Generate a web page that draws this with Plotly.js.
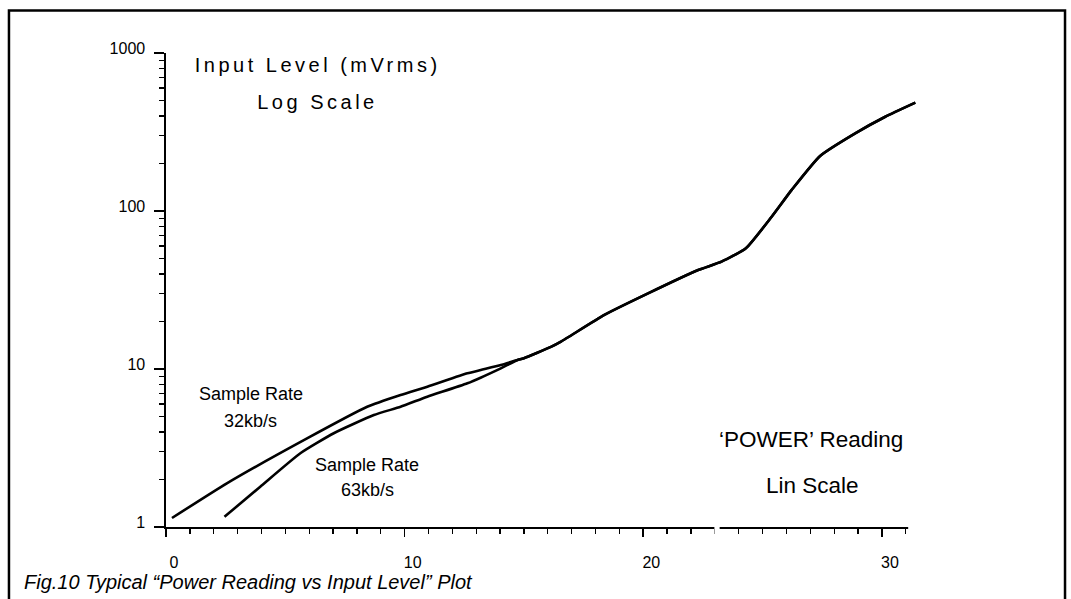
<!DOCTYPE html>
<html>
<head>
<meta charset="utf-8">
<script src="https://cdn.plot.ly/plotly-3.0.1.min.js"></script>
<style>
  html, body { margin: 0; padding: 0; background: #fff; }
  #chart { width: 1071px; height: 599px; }
  .annotation[data-index="0"] text, .annotation[data-index="1"] text { letter-spacing: 3.5px; }
</style>
</head>
<body>
<div id="chart"></div>
<script>
// Power reading (linear) vs input level (mVrms, log)
const rate32X = [0.25, 2.55, 5.91, 8.43, 9.83, 10.95, 12.63, 13.19, 14.03, 14.73];
const rate32Y = [1.14, 1.89, 3.64, 5.77, 6.85, 7.73, 9.39, 9.86, 10.6, 11.4];

const rate63X = [2.45, 3.95, 5.63, 7.03, 8.71, 9.83, 10.95, 12.63, 14.03, 14.73];
const rate63Y = [1.16, 1.80, 2.93, 3.92, 5.11, 5.77, 6.68, 8.12, 10.1, 11.4];

const commonX = [15.0, 16.13, 16.55, 18.37, 20.2, 22.3, 23.28, 24.3, 25.38, 26.22, 27.41, 28.88, 30.14, 31.4];
const commonY = [11.7, 13.8, 14.9, 22.0, 30.1, 42.3, 47.8, 58.1, 92, 136, 223, 310, 395, 485];

const xMajorTicks = [0, 10, 20, 30];
const xMinorTicks = Array.from({length: 32}, (_, i) => i);
const yMajorTicks = [1, 10, 100, 1000];
const yMinorTicks = [2,3,4,5,6,7,8,9,20,30,40,50,60,70,80,90,200,300,400,500,600,700,800,900];

const FONT = 'Liberation Sans, Arial, Helvetica, sans-serif';

const lineStyle = {color: '#000', width: 2.6, shape: 'spline', smoothing: 0.5};

const traces = [
  {x: rate32X.concat(commonX), y: rate32Y.concat(commonY), mode: 'lines', line: lineStyle, name: '32kb/s', hoverinfo: 'none'},
  {x: rate63X.concat(commonX), y: rate63Y.concat(commonY), mode: 'lines', line: lineStyle, name: '63kb/s', hoverinfo: 'none'}
];

function ann(text, x, y, size, opts) {
  return Object.assign({
    text: text, x: x, y: y, xref: 'paper', yref: 'paper',
    xanchor: 'center', yanchor: 'middle', showarrow: false,
    font: {family: FONT, size: size, color: '#000'}
  }, opts || {});
}

const layout = {
  width: 1071, height: 599,
  margin: {l: 166, r: 154, t: 53, b: 72},
  paper_bgcolor: '#fff', plot_bgcolor: '#fff',
  showlegend: false,
  font: {family: FONT, color: '#000'},
  xaxis: {
    range: [0, 31.47], showgrid: false, zeroline: false,
    showline: true, linecolor: '#000', linewidth: 1.6,
    tickmode: 'array', tickvals: xMajorTicks, ticktext: xMajorTicks.map(String),
    ticks: 'outside', ticklen: 8, tickwidth: 1.6, tickcolor: '#000',
    ticklabelstandoff: 12, ticklabelshift: 8,
    tickfont: {family: FONT, size: 16, color: '#000'},
    minor: {tickmode: 'array', tickvals: xMinorTicks, ticks: 'outside', ticklen: 5, tickwidth: 1.3, tickcolor: '#000', showgrid: false},
    fixedrange: true
  },
  yaxis: {
    type: 'log', range: [0, 3], showgrid: false, zeroline: false,
    showline: true, linecolor: '#000', linewidth: 1.6,
    tickmode: 'array', tickvals: yMajorTicks, ticktext: yMajorTicks.map(String),
    ticks: 'outside', ticklen: 10, tickwidth: 1.6, tickcolor: '#000',
    ticklabelstandoff: 6, ticklabelshift: -5,
    tickfont: {family: FONT, size: 16, color: '#000'},
    minor: {tickmode: 'array', tickvals: yMinorTicks, ticks: 'outside', ticklen: 5, tickwidth: 1.3, tickcolor: '#000', showgrid: false},
    fixedrange: true
  },
  annotations: [
    ann('Input Level (mVrms)', 0.2017, 0.9747, 20),
    ann('Log Scale', 0.2011, 0.8966, 20),
    ann('Sample Rate', 0.1138, 0.2816, 18),
    ann('32kb/s', 0.1119, 0.2236, 18),
    ann('Sample Rate', 0.2683, 0.1308, 18),
    ann('63kb/s', 0.2683, 0.0781, 18),
    ann('\u2018POWER\u2019 Reading', 0.8589, 0.1846, 22.5),
    ann('Lin Scale', 0.8615, 0.0876, 22.5),
    ann('<i>Fig.10 Typical \u201cPower Reading vs Input Level\u201d Plot</i>', -0.1917, -0.115, 20, {xanchor: 'left'})
  ],
  shapes: [
    {type: 'rect', xref: 'paper', yref: 'paper', x0: -0.2091, x1: 1.1971, y0: -0.3, y1: 1.0897,
     line: {color: '#000', width: 2.5}, fillcolor: 'rgba(0,0,0,0)', layer: 'below'},
    {type: 'rect', xref: 'x', yref: 'paper', x0: 22.98, x1: 23.2, y0: -0.03, y1: 0.006,
     line: {width: 0}, fillcolor: '#fff', layer: 'above'},
    {type: 'rect', xref: 'x', yref: 'paper', x0: 31.1, x1: 31.6, y0: -0.03, y1: 0.006,
     line: {width: 0}, fillcolor: '#fff', layer: 'above'}
  ]
};

Plotly.newPlot('chart', traces, layout, {displayModeBar: false, staticPlot: true});
</script>
</body>
</html>
